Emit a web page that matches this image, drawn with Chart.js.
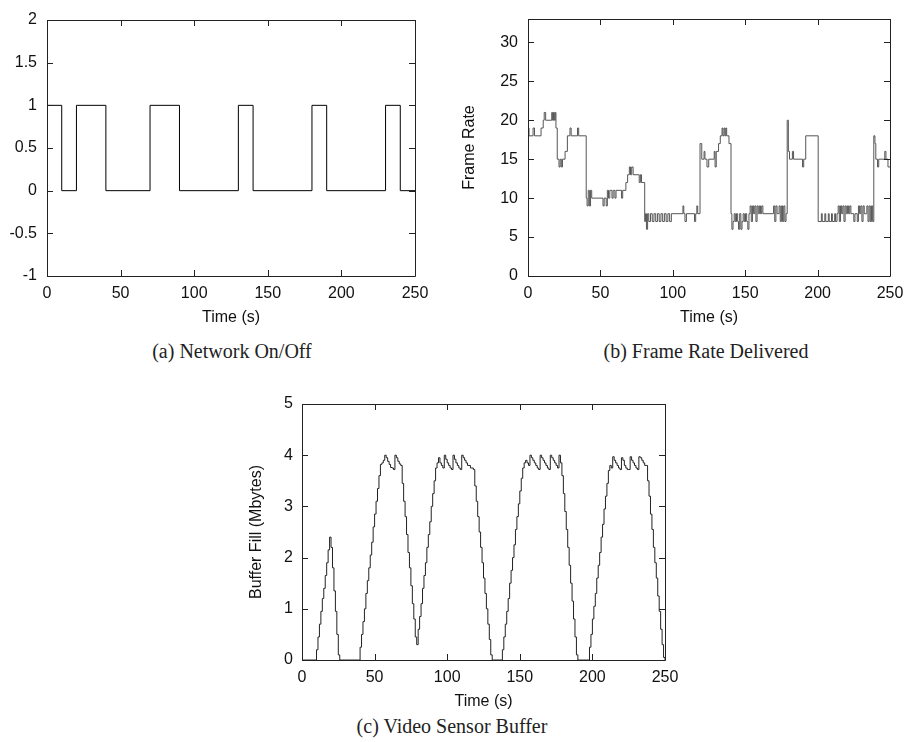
<!DOCTYPE html>
<html>
<head>
<meta charset="utf-8">
<script src="https://cdn.jsdelivr.net/npm/chart.js@4/dist/chart.umd.min.js"></script>
<style>
  body { margin: 0; background: #fff; width: 906px; height: 742px; position: relative; overflow: hidden; }
  .box { position: absolute; }
  .cap { position: absolute; font-family: "Liberation Serif", "Times New Roman", serif; font-size: 20px; color: #222; transform: translateX(-50%); white-space: nowrap; }
</style>
</head>
<body>
<div class="box" style="left:0;top:0;width:430px;height:330px"><canvas id="chartA"></canvas></div>
<div class="box" style="left:450px;top:0;width:456px;height:330px"><canvas id="chartB"></canvas></div>
<div class="box" style="left:230px;top:384px;width:450px;height:330px"><canvas id="chartC"></canvas></div>
<div class="cap" style="left:232px;top:340px">(a) Network On/Off</div>
<div class="cap" style="left:706px;top:340px">(b) Frame Rate Delivered</div>
<div class="cap" style="left:452px;top:715px">(c) Video Sensor Buffer</div>
<script>
// network state changes: [time (s), on/off]
const networkSteps = [[0,1],[10,0],[20,1],[40,0],[70,1],[90,0],[130,1],[140,0],[180,1],[190,0],[230,1],[240,0],[250,0]];

// frame rate changes: [time (s), frames]
const frameSteps = [
  [0,19],[0.7,18],[3.5,19],[4.5,18],[9,19],[10.5,20],[11.2,21],[12.2,20],[16.4,21],[17,20],[17.6,21],[18.2,20],[18.8,21],[19.3,19],
  [20.2,15],[21.4,14],[22.2,15],[23,14],[23.8,15],[25.6,16],[27.2,18],[29,19],[29.8,18],[34.2,19],[35,18],
  [40.2,10],[40.8,9],[41.6,11],[42.4,9],[43.2,11],[44,10],[51.8,9],[52.6,10],[54,9],[54.8,11],[55.6,10],[56.5,11],[58,10],[58.8,11],
  [60,10],[60.8,11],[64.6,10],[65.4,11],[67.6,12],[68.8,13],[70,14],[70.8,13],[71.6,14],[72.6,13],[76.8,12],[77.6,13],[78.4,12],
  [80.6,7],[81.2,8],[81.8,6],[82.6,8],[83.4,7],[84.6,8],[85.8,7],[87,8],[88.2,7],[89.4,8],[90.6,7],[91.8,8],[93,7],[94.2,8],
  [95.4,7],[96.6,8],[97.8,7],[99,8],[107,9],[107.6,8],[108.4,7],[109.4,8],[115,7],[115.8,8],[116.6,9],[117.2,8],
  [118.8,17],[120,15],[121.6,16],[122.2,15],[123.6,14],[124.8,15],[128.6,16],[129.2,14],[130,16],[131.6,17],[132.8,18],
  [134,19],[134.6,18],[135.4,19],[136,18],[136.6,19],[137.2,18],[138.8,17],
  [140.2,8],[140.8,6],[141.6,7],[142.4,8],[143.2,7],[144,8],[144.8,7],[145.4,6],[146.2,8],[147,6],[147.8,7],[148.6,8],[149.4,7],
  [150.2,8],[151,7],[151.8,6],[152.6,8],[153.4,9],[154.2,7],[155,9],[155.8,8],[156.6,9],[157.4,7],[158.2,9],[159,8],[159.8,9],
  [160.6,8],[161.4,9],[162.2,8],[169.6,9],[170.4,7],[171.2,9],[172,8],[173.4,9],[174.2,7],[175,9],[175.8,7],[176.6,9],[177.4,7],[178.2,8],
  [179,20],[179.8,16],[180.6,15],[182.6,16],[183.4,15],[189.6,14],[190.4,15],[191.8,18],
  [200.4,7],[202.6,8],[203.2,7],[205,8],[205.6,7],[207.4,8],[208,7],[209.6,8],[210.2,7],[211.8,8],[212.4,7],[213.4,8],[214.2,9],
  [215,7],[215.8,9],[216.6,8],[217.4,9],[218.2,7],[219,9],[219.8,8],[220.6,9],[221.4,8],[222.2,9],[223,8],[225,7],[225.8,8],
  [227.4,7],[228.2,9],[229,8],[229.8,9],[230.6,7],[231.4,9],[232.2,8],[234,9],[234.8,7],[235.6,9],[236.4,7],[237.2,9],[238,7],
  [238.8,18],[239.6,17],[240.2,15],[241.4,14],[242.2,15],[246.4,16],[247.2,15],[248.6,14],[250,14]
];

// buffer fill (Mbytes), one value per second from t = 0 to 250
const bufferFill = [
  0,0,0,0,0,0,0,0,0,0,
  0.2,0.45,0.7,0.95,1.2,1.4,1.65,1.9,2.15,2.4,
  2.2,1.8,1.35,0.95,0.5,0.1,0,0,0,0,
  0,0,0,0,0,0,0,0,0,0,
  0.25,0.5,0.75,1.0,1.3,1.55,1.8,2.05,2.3,2.6,
  2.85,3.1,3.35,3.6,3.82,3.85,3.9,4.0,3.95,3.88,
  3.82,3.76,3.75,3.72,4.0,3.95,3.88,3.83,3.8,3.45,
  3.1,2.8,2.45,2.1,1.8,1.45,1.1,0.8,0.45,0.3,
  0.6,0.85,1.1,1.4,1.65,1.9,2.2,2.45,2.7,3.0,
  3.25,3.5,3.75,3.85,3.95,3.85,3.8,3.75,4.0,3.92,
  3.85,3.8,3.75,3.72,4.0,3.92,3.85,3.8,3.75,3.72,
  4.0,3.95,3.9,3.85,3.8,3.8,3.75,3.75,3.72,3.4,
  3.1,2.8,2.5,2.2,1.9,1.6,1.3,1.0,0.7,0.4,
  0.1,0,0,0,0,0,0,0,0.2,0.45,
  0.7,0.95,1.2,1.5,1.75,2.0,2.25,2.55,2.8,3.05,
  3.3,3.55,3.75,3.85,3.9,3.85,3.8,4.0,3.95,3.9,
  3.85,3.8,3.75,3.72,4.0,3.95,3.9,3.85,3.8,3.75,
  3.72,4.0,3.95,3.9,3.85,3.8,3.75,4.0,3.85,3.6,
  3.25,2.9,2.55,2.2,1.85,1.5,1.15,0.8,0.45,0.1,
  0,0,0,0,0,0,0,0,0.25,0.5,
  0.8,1.05,1.3,1.6,1.85,2.1,2.4,2.65,2.95,3.2,
  3.45,3.7,3.8,3.75,3.97,3.9,3.85,3.8,3.75,3.72,
  3.95,3.9,3.8,3.75,3.72,3.72,3.97,3.9,3.85,3.8,
  3.75,3.72,3.97,3.95,3.9,3.85,3.8,3.8,3.5,3.2,
  2.85,2.55,2.2,1.9,1.6,1.25,0.95,0.6,0.3,0.05,
  0
];

const timeTicks = { min: 0, max: 250, step: 50 };

const tickFont = { family: '"Liberation Sans", Arial, sans-serif', size: 16 };

// gnuplot-like frame with inward ticks on all four sides
const frameTicks = {
  id: 'frameTicks',
  afterDatasetsDraw(chart) {
    const { ctx, chartArea: a, scales: { x, y } } = chart;
    ctx.save();
    ctx.strokeStyle = '#222';
    ctx.lineWidth = 1;
    ctx.beginPath();
    ctx.rect(a.left + 0.5, a.top + 0.5, a.right - a.left, a.bottom - a.top);
    x.ticks.forEach(t => {
      const px = Math.round(x.getPixelForValue(t.value)) + 0.5;
      ctx.moveTo(px, a.bottom); ctx.lineTo(px, a.bottom - 6);
      ctx.moveTo(px, a.top); ctx.lineTo(px, a.top + 6);
    });
    y.ticks.forEach(t => {
      const py = Math.round(y.getPixelForValue(t.value)) + 0.5;
      ctx.moveTo(a.left, py); ctx.lineTo(a.left + 6, py);
      ctx.moveTo(a.right, py); ctx.lineTo(a.right - 6, py);
    });
    ctx.stroke();
    ctx.restore();
  }
};

function makeChart(id, points, color, yOpts, yTitle, yAxisWidth, yTitlePad, pad) {
  return new Chart(document.getElementById(id), {
    type: 'line',
    data: {
      datasets: [{
        data: points,
        borderColor: color,
        borderWidth: 1,
        pointRadius: 0,
        stepped: true,
        fill: false
      }]
    },
    options: {
      responsive: true,
      maintainAspectRatio: false,
      animation: false,
      layout: { padding: pad },
      plugins: { legend: { display: false }, tooltip: { enabled: false } },
      scales: {
        x: {
          type: 'linear',
          min: timeTicks.min, max: timeTicks.max,
          grid: { display: false, drawTicks: false },
          border: { display: false },
          ticks: { stepSize: timeTicks.step, font: tickFont, color: '#111', padding: 8, maxRotation: 0 },
          title: { display: true, text: 'Time (s)', font: tickFont, color: '#111', padding: { top: 0, bottom: 3 } },
          afterFit(s) { s.height = 54; s.paddingLeft = 0; s.paddingRight = 0; }
        },
        y: Object.assign({
          grid: { display: false, drawTicks: false },
          border: { display: false },
          title: { display: !!yTitle, text: yTitle, font: tickFont, color: '#111', padding: { top: yTitlePad, bottom: 0 } },
          afterFit(s) { s.width = yAxisWidth; s.paddingTop = 0; s.paddingBottom = 0; }
        }, yOpts)
      }
    },
    plugins: [frameTicks]
  });
}

const plainLabel = v => String(v);

makeChart('chartA',
  networkSteps.map(p => ({ x: p[0], y: p[1] })), '#000',
  { min: -1, max: 2, ticks: { stepSize: 0.5, font: tickFont, color: '#111', padding: 10, callback: plainLabel } },
  '', 47, 0, { top: 20, right: 15, left: 0, bottom: 0 });

makeChart('chartB',
  frameSteps.map(p => ({ x: p[0], y: p[1] })), '#555',
  { min: 0, max: 33, ticks: { stepSize: 5, includeBounds: false, font: tickFont, color: '#111', padding: 10, callback: plainLabel } },
  'Frame Rate', 78, 10, { top: 19, right: 16, left: 0, bottom: 0 });

makeChart('chartC',
  bufferFill.map((v, i) => ({ x: i, y: v })), '#222',
  { min: 0, max: 5, ticks: { stepSize: 1, font: tickFont, color: '#111', padding: 9, callback: plainLabel } },
  'Buffer Fill (Mbytes)', 72, 17, { top: 20, right: 15, left: 0, bottom: 0 });
</script>
</body>
</html>
